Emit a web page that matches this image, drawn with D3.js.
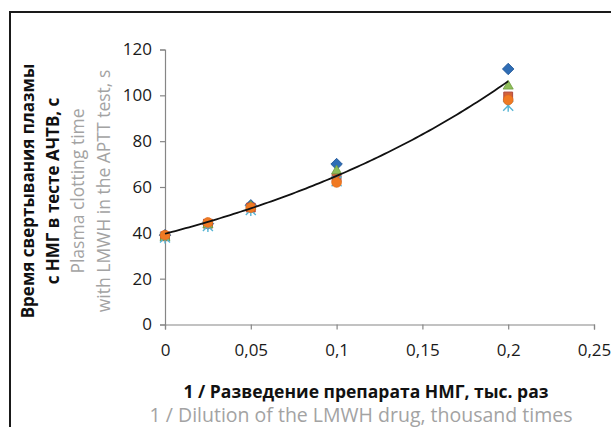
<!DOCTYPE html>
<html><head><meta charset="utf-8">
<script src="https://cdn.jsdelivr.net/npm/d3@7"></script>
<style>html,body{margin:0;padding:0;background:#fff;overflow:hidden}</style>
</head><body><svg id="c" width="611" height="427"></svg>
<script>
// ---- data ----
const xDilution = [0, 0.025, 0.05, 0.1, 0.2];
const seriesDiamond  = [39, 44, 52, 70, 111.5];
const seriesSquare   = [38.5, 44, 51, 64, 99.5];
const seriesTriangle = [38, 43.5, 51.5, 67, 104];
const seriesStar     = [38, 43, 50, 62.5, 95.5];
const seriesCircle   = [39, 44.5, 51, 62, 98];
// exponential trendline y = a * e^(b x), parameters
const trendA = 39.6, trendB = 4.93, trendXMax = 0.2;
const xTickValues = [0, 0.05, 0.1, 0.15, 0.2, 0.25];
const xTickLabels = ["0", "0,05", "0,1", "0,15", "0,2", "0,25"];
const yTickValues = [0, 20, 40, 60, 80, 100, 120];
const yTickLabels = ["0", "20", "40", "60", "80", "100", "120"];
const yTitleRu = ["Время свертывания плазмы", "с НМГ в тесте АЧТВ, с"];
const yTitleEn = ["Plasma clotting time", "with LMWH in the APTT test, s"];
const xTitleRu = "1 / Разведение препарата НМГ, тыс. раз";
const xTitleEn = "1 / Dilution of the LMWH drug, thousand times";

// ---- layout ----
const svg = d3.select("#c");
const FONT = "'Open Sans', 'Noto Sans', sans-serif";
const x = d3.scaleLinear().domain([0, 0.25]).range([165, 594]);
const y = d3.scaleLinear().domain([0, 120]).range([324.5, 49.5]);
const axisCol = "#868686";

// border
svg.append("rect").attr("x", 10).attr("y", 12).attr("width", 640).attr("height", 440)
  .attr("fill", "none").attr("stroke", "#1a1a1a").attr("stroke-width", 2);

// axes
const xAxis = svg.append("g").attr("transform", `translate(0,${y(0)})`)
  .call(d3.axisBottom(x).tickValues(xTickValues).tickFormat((d, i) => xTickLabels[i]).tickSizeInner(5).tickSizeOuter(5).tickPadding(14));
const yAxis = svg.append("g").attr("transform", `translate(${x(0)},0)`)
  .call(d3.axisLeft(y).tickValues(yTickValues).tickFormat((d, i) => yTickLabels[i]).tickSizeInner(5).tickSizeOuter(5).tickPadding(8));
[xAxis, yAxis].forEach(g => {
  g.selectAll("path,line").attr("stroke", axisCol).attr("stroke-width", 1.2);
  g.selectAll("text").attr("fill", "#1a1a1a").style("font-family", FONT).style("font-size", "17px");
});

// markers
const pts = (vals) => xDilution.map((xv, i) => [x(xv), y(vals[i])]);
const diamondPath = d3.symbol().type(d3.symbolSquare).size(66)();
const squarePath = d3.symbol().type(d3.symbolSquare).size(78)();
const trianglePath = d3.symbol().type(d3.symbolTriangle).size(44)();
const circlePath = d3.symbol().type(d3.symbolCircle).size(76)();

const mk = svg.append("g");
mk.selectAll(".dia").data(pts(seriesDiamond)).join("path")
  .attr("d", diamondPath).attr("transform", d => `translate(${d[0]},${d[1]}) rotate(45)`)
  .attr("fill", "#2f6db5").attr("stroke", "#1f5596").attr("stroke-width", 0.8);
mk.selectAll(".sq").data(pts(seriesSquare)).join("path")
  .attr("d", squarePath).attr("transform", d => `translate(${d[0]},${d[1]})`)
  .attr("fill", "#d2623a").attr("stroke", "#b04a3f").attr("stroke-width", 1);
mk.selectAll(".tri").data(pts(seriesTriangle)).join("path")
  .attr("d", trianglePath).attr("transform", d => `translate(${d[0]},${d[1]})`)
  .attr("fill", "#8fbf5a").attr("stroke", "#6f9d3f").attr("stroke-width", 0.8);
mk.selectAll(".star").data(pts(seriesStar)).join("path")
  .attr("d", d => {
    const p = d3.path(), r = 5;
    p.moveTo(d[0] - r, d[1] - r); p.lineTo(d[0] + r, d[1] + r);
    p.moveTo(d[0] + r, d[1] - r); p.lineTo(d[0] - r, d[1] + r);
    p.moveTo(d[0], d[1] - r - 1); p.lineTo(d[0], d[1] + r + 1);
    return p.toString();
  })
  .attr("fill", "none").attr("stroke", "#55b4d4").attr("stroke-width", 1.4);
mk.selectAll(".circ").data(pts(seriesCircle)).join("path")
  .attr("d", circlePath).attr("transform", d => `translate(${d[0]},${d[1]})`)
  .attr("fill", "#f07a23").attr("stroke", "#e06a18").attr("stroke-width", 0.6);

// trendline
const tx = d3.range(0, trendXMax + 1e-9, trendXMax / 100);
const line = d3.line().x(d => x(d)).y(d => y(trendA * Math.exp(trendB * d)));
svg.append("path").datum(tx).attr("d", line).attr("fill", "none")
  .attr("stroke", "#111").attr("stroke-width", 1.8);

// titles
const yt = svg.append("g").style("font-family", FONT).attr("text-anchor", "middle");
const yc = 191;
[[yTitleRu[0], 34, "#111", 700, 17], [yTitleRu[1], 59, "#111", 700, 17],
 [yTitleEn[0], 84, "#a3a3a3", 400, 17.5], [yTitleEn[1], 110, "#a3a3a3", 400, 17.5]].forEach(([t, bx, col, w, fs]) => {
  yt.append("text").text(t).attr("transform", `translate(${bx},${yc}) rotate(-90)`)
    .attr("fill", col).style("font-weight", w).style("font-size", fs + "px");
});
const xt = svg.append("g").style("font-family", FONT).attr("text-anchor", "middle");
xt.append("text").text(xTitleRu).attr("x", 366).attr("y", 398)
  .attr("fill", "#111").style("font-weight", 700).style("font-size", "17.5px");
xt.append("text").text(xTitleEn).attr("x", 361).attr("y", 422)
  .attr("fill", "#a3a3a3").style("font-weight", 400).style("font-size", "19.5px");
</script></body></html>
